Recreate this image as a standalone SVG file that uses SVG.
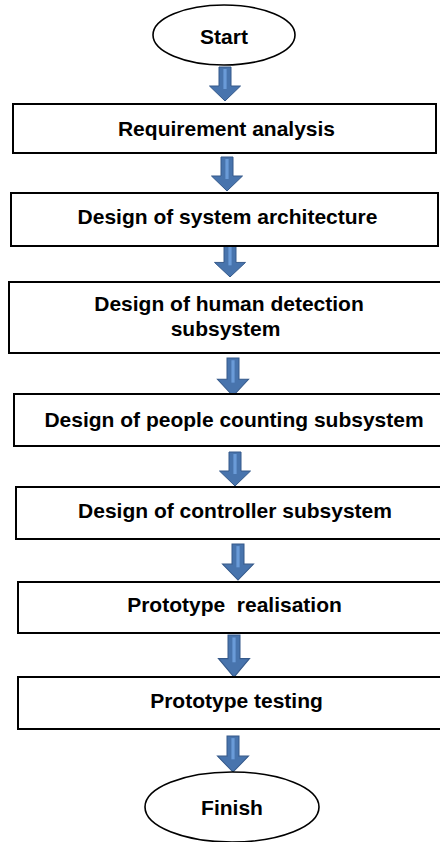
<svg xmlns="http://www.w3.org/2000/svg" width="440" height="842" viewBox="0 0 440 842">
  <style>
    .box { fill: #ffffff; stroke: #000000; stroke-width: 2; }
    .term { fill: #ffffff; stroke: #000000; stroke-width: 1.6; }
    .lbl { font-family: "Liberation Sans", Arial, sans-serif; font-weight: bold; font-size: 21px; fill: #000000; text-anchor: middle; }
    .arrow { fill: #4874ad; stroke: #35598a; stroke-width: 1; }
    .shine { fill: #6a9bd8; }
  </style>
  <defs>
    <!-- block arrow: shaft 12 wide, head 31 wide; origin at top centre of shaft -->
    <g id="down">
      <path class="arrow" d="M-6,0 H6 V0 H6 V19 H15.5 L0,34 L-15.5,19 H-6 Z"/>
      <rect class="shine" x="-1.6" y="2" width="3.2" height="20"/>
    </g>
  </defs>

  <rect x="0" y="0" width="440" height="842" fill="#ffffff"/>

  <!-- connectors -->
  <g id="connectors">
    <use href="#down" transform="translate(225,67) scale(1,1)"/>
    <use href="#down" transform="translate(227,157)"/>
    <use href="#down" transform="translate(230,244) scale(1,0.97)"/>
    <use href="#down" transform="translate(233,358) scale(1,1.12)"/>
    <use href="#down" transform="translate(235,452)"/>
    <use href="#down" transform="translate(238,544) scale(1,1.06)"/>
    <use href="#down" transform="translate(234,635) scale(1,1.24)"/>
    <use href="#down" transform="translate(233,736) scale(1,1.06)"/>
  </g>

  <g id="start">
    <ellipse class="term" cx="224" cy="35" rx="71" ry="30"/>
    <text class="lbl" x="224" y="44">Start</text>
  </g>

  <g id="requirement-analysis">
    <rect class="box" x="13" y="104" width="423" height="49"/>
    <text class="lbl" x="226.5" y="135.5">Requirement analysis</text>
  </g>

  <g id="system-architecture">
    <rect class="box" x="11" y="193" width="427" height="53"/>
    <text class="lbl" x="227.5" y="224">Design of system architecture</text>
  </g>

  <g id="human-detection">
    <rect class="box" x="9" y="282" width="440" height="71"/>
    <text class="lbl" x="229" y="311">Design of human detection</text>
    <text class="lbl" x="225.5" y="336">subsystem</text>
  </g>

  <g id="people-counting">
    <rect class="box" x="14" y="394" width="440" height="52"/>
    <text class="lbl" x="234" y="427">Design of people counting subsystem</text>
  </g>

  <g id="controller">
    <rect class="box" x="16" y="487" width="440" height="52"/>
    <text class="lbl" x="235" y="518">Design of controller subsystem</text>
  </g>

  <g id="prototype-realisation">
    <rect class="box" x="18" y="582" width="440" height="51"/>
    <text class="lbl" x="234.5" y="612" xml:space="preserve">Prototype  realisation</text>
  </g>

  <g id="prototype-testing">
    <rect class="box" x="18" y="677" width="440" height="52"/>
    <text class="lbl" x="236.5" y="708">Prototype testing</text>
  </g>

  <g id="finish">
    <ellipse class="term" cx="232" cy="807" rx="87" ry="35"/>
    <text class="lbl" x="232" y="815">Finish</text>
  </g>
</svg>
